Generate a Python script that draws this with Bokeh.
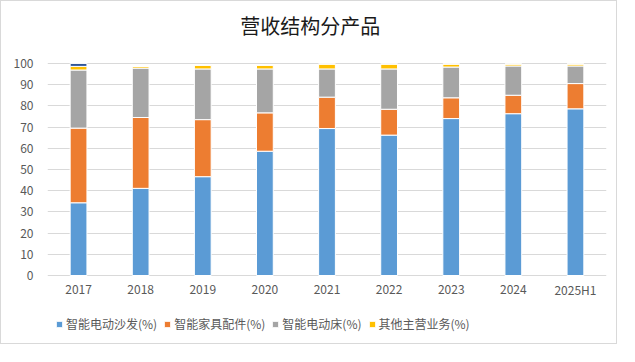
from bokeh.plotting import figure
from bokeh.models import (ColumnDataSource, Legend, LegendItem, FactorRange,
                          Range1d, Label)
from bokeh.core.properties import value
from bokeh.embed import file_html
from bokeh.resources import INLINE

years = ["2017", "2018", "2019", "2020", "2021", "2022", "2023", "2024", "2025H1"]
sofa = [34.3, 41.1, 46.6, 58.6, 69.3, 66.2, 74.0, 76.3, 78.6]
parts = [35.2, 33.4, 26.9, 18.1, 14.8, 12.2, 9.8, 8.7, 11.9]
bed = [27.4, 23.3, 23.9, 20.7, 13.3, 19.0, 14.5, 13.8, 8.3]
other = [1.7, 0.8, 1.8, 1.8, 2.3, 2.3, 1.4, 0.9, 0.9]
extra = [1.4, 0.0, 0.0, 0.0, 0.0, 0.0, 0.0, 0.0, 0.0]
yticks = [0, 10, 20, 30, 40, 50, 60, 70, 80, 90, 100]

series = ["sofa", "parts", "bed", "other", "extra"]
names = ["智能电动沙发(%)", "智能家具配件(%)", "智能电动床(%)", "其他主营业务(%)"]
colors = ["#5B9BD5", "#ED7D31", "#A5A5A5", "#FFC000", "#2F5597"]
title_text = "营收结构分产品"

source = ColumnDataSource(dict(years=years, sofa=sofa, parts=parts, bed=bed,
                               other=other, extra=extra,
                               label_y=[-6.5] * len(years)))

FONT = "Noto Sans CJK SC"

# frame covers full height; data 0..100 maps to pixels 274..62
p = figure(x_range=FactorRange(*years), y_range=Range1d(-33.0, 129.2),
           width=617, height=344, output_backend="svg", toolbar_location=None,
           min_border_left=46, min_border_right=12, min_border_top=0,
           min_border_bottom=0, x_axis_location=None,
           styles={"border": "1px solid #d9d9d9"})

renderers = p.vbar_stack(series, x="years", width=0.27, color=colors,
                         line_color="white", line_width=1, source=source)

# category labels under the bars
p.text(x="years", y="label_y", text="years", source=source,
       text_font=value(FONT), text_font_size="12px", text_color="#595959",
       text_align="center", text_baseline="middle")

p.add_layout(Label(x=4.23, y=118.0, text=title_text, text_font=FONT,
                   text_font_size="20px", text_color="#1a1a1a",
                   text_align="center", text_baseline="middle"))

p.outline_line_color = None
p.xgrid.grid_line_color = None
p.ygrid.grid_line_color = "#d9d9d9"
p.ygrid.grid_line_width = 1

p.yaxis.ticker = yticks
p.yaxis.axis_line_color = None
p.yaxis.major_tick_line_color = None
p.yaxis.minor_tick_line_color = None
p.yaxis.major_label_standoff = 8
p.yaxis.major_label_text_font = FONT
p.yaxis.major_label_text_font_size = "12px"
p.yaxis.major_label_text_color = "#595959"
p.x_range.range_padding = 0

items = [LegendItem(label=n, renderers=[r]) for n, r in zip(names, renderers[:4])]
legend = Legend(items=items, orientation="horizontal", location=(8, 13),
                glyph_width=8, glyph_height=8, label_text_font=FONT,
                label_text_font_size="12px", label_text_color="#595959",
                spacing=6, label_standoff=3, padding=2, margin=0,
                border_line_color=None, background_fill_alpha=0)
p.add_layout(legend, "center")

open("out.html", "w").write(file_html(p, INLINE))
